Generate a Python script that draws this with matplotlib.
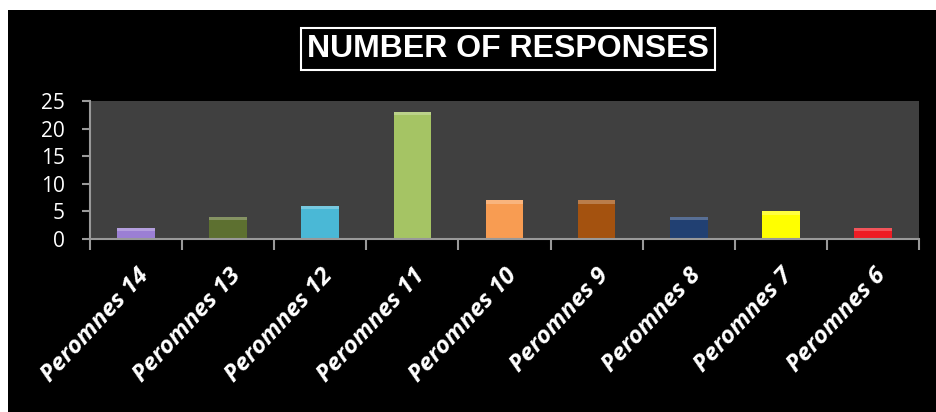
import matplotlib.pyplot as plt
import numpy as np

categories = ['Peromnes 14', 'Peromnes 13', 'Peromnes 12', 'Peromnes 11', 'Peromnes 10',
              'Peromnes 9', 'Peromnes 8', 'Peromnes 7', 'Peromnes 6']
responses = [2, 4, 6, 23, 7, 7, 4, 5, 2]
colors = ['#9b7fd4', '#5d7030', '#4ab8d6', '#a5c464', '#f89c52',
          '#a4520f', '#214072', '#ffff00', '#ee1c24']

fig = plt.figure(figsize=(9.36, 4.12), dpi=100)
fig.patch.set_facecolor('white')
# black panel with a thin white strip at the top and left
fig.add_artist(plt.Rectangle((8 / 936, 0), 1, 1 - 10 / 412, transform=fig.transFigure,
                             facecolor='black', edgecolor='none', zorder=0))

ax = fig.add_axes([90 / 936, 1 - 239 / 412, 829 / 936, 138 / 412])
ax.set_facecolor('#404040')
x = np.arange(len(categories))
ax.bar(x, responses, width=0.41, color=colors, edgecolor='none', zorder=2)
# light highlight on top of each bar
ax.bar(x, [0.6] * len(x), bottom=np.array(responses) - 0.6, width=0.41,
       color='white', alpha=0.25, edgecolor='none', zorder=3)

ax.set_xlim(-0.5, len(categories) - 0.5)
ax.set_ylim(0, 25)
ax.set_yticks([0, 5, 10, 15, 20, 25])
ax.set_xticks(np.arange(len(categories) + 1) - 0.5, minor=False)
ax.set_xticklabels([])
ax.set_xticks(x, minor=True)
ax.set_xticklabels(categories, minor=True, rotation=47, ha='right', va='top',
                   rotation_mode='anchor', color='white', fontsize=17.5,
                   fontweight='bold', fontstyle='italic', family='Open Sans')
ax.tick_params(axis='x', which='minor', length=0, pad=18)
ax.tick_params(axis='x', which='major', length=8, color='#999999', width=1.5)
ax.tick_params(axis='y', length=6, color='#999999', width=1.5, labelcolor='white',
               labelsize=15, pad=12)
for lab in ax.get_yticklabels():
    lab.set_family('Open Sans')

for side in ['top', 'right']:
    ax.spines[side].set_visible(False)
for side in ['left', 'bottom']:
    ax.spines[side].set_color('#999999')
    ax.spines[side].set_linewidth(1.5)

fig.text(508 / 936, 1 - 49 / 412, 'NUMBER OF RESPONSES', color='white', fontsize=23,
         fontweight='bold', family='Liberation Sans', ha='center', va='center',
         bbox=dict(facecolor='black', edgecolor='white', linewidth=1.5, pad=4.5))

fig.savefig('out.png', dpi=100, facecolor=fig.get_facecolor())
